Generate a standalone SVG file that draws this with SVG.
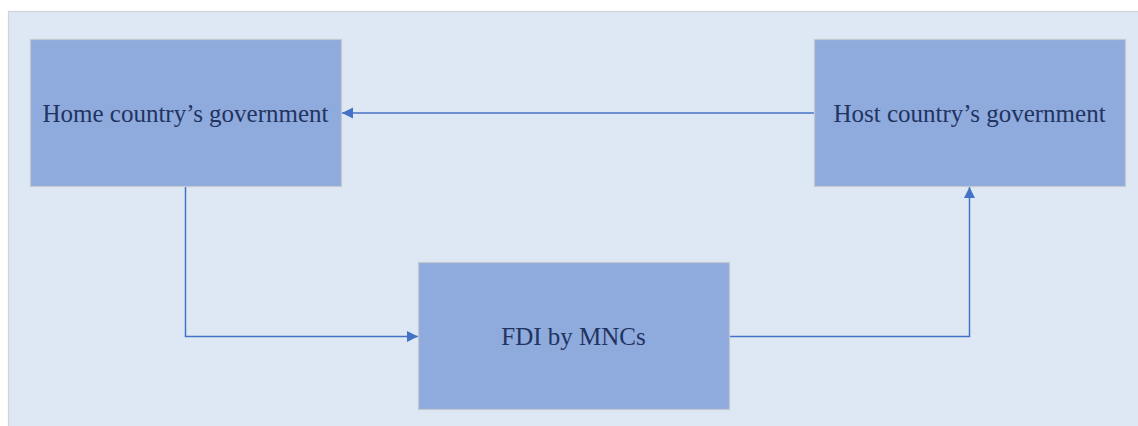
<svg xmlns="http://www.w3.org/2000/svg" width="1138" height="426" viewBox="0 0 1138 426">
  <defs>
    <style>
      .panel { fill: #dee8f4; stroke: #d0d3d8; stroke-width: 1.2; }
      .box { fill: #8faadc; stroke: #c4c8cf; stroke-width: 1.2; }
      .label { font-family: "Liberation Serif", "Times New Roman", serif; font-size: 25px; fill: #1f3461; text-anchor: middle; dominant-baseline: central; }
      .link { fill: none; stroke: #4472c4; stroke-width: 1.5; }
    </style>
    <marker id="arrowBig" viewBox="0 0 10 10" refX="10" refY="5" markerWidth="11" markerHeight="12" markerUnits="userSpaceOnUse" orient="auto">
      <path d="M0,0 L10,5 L0,10 z" fill="#4472c4"/>
    </marker>
  </defs>

  <rect width="1138" height="426" fill="#ffffff"/>
  <rect class="panel" x="8.5" y="11.5" width="1140" height="430"/>

  <g id="connectors">
    <path class="link" d="M814,113 L342,113" marker-end="url(#arrowBig)"/>
    <path class="link" d="M185.5,186 L185.5,336.5 L418,336.5" marker-end="url(#arrowBig)"/>
    <path class="link" d="M729,336.5 L969.5,336.5 L969.5,187" marker-end="url(#arrowBig)"/>
  </g>

  <g id="home-government">
    <rect class="box" x="30.5" y="39.5" width="311" height="147"/>
    <text class="label" x="185.5" y="113">Home country’s government</text>
  </g>

  <g id="host-government">
    <rect class="box" x="814.5" y="39.5" width="311" height="147"/>
    <text class="label" x="969.5" y="113">Host country’s government</text>
  </g>

  <g id="fdi-mncs">
    <rect class="box" x="418.5" y="262.5" width="311" height="147"/>
    <text class="label" x="573.5" y="336">FDI by MNCs</text>
  </g>
</svg>
